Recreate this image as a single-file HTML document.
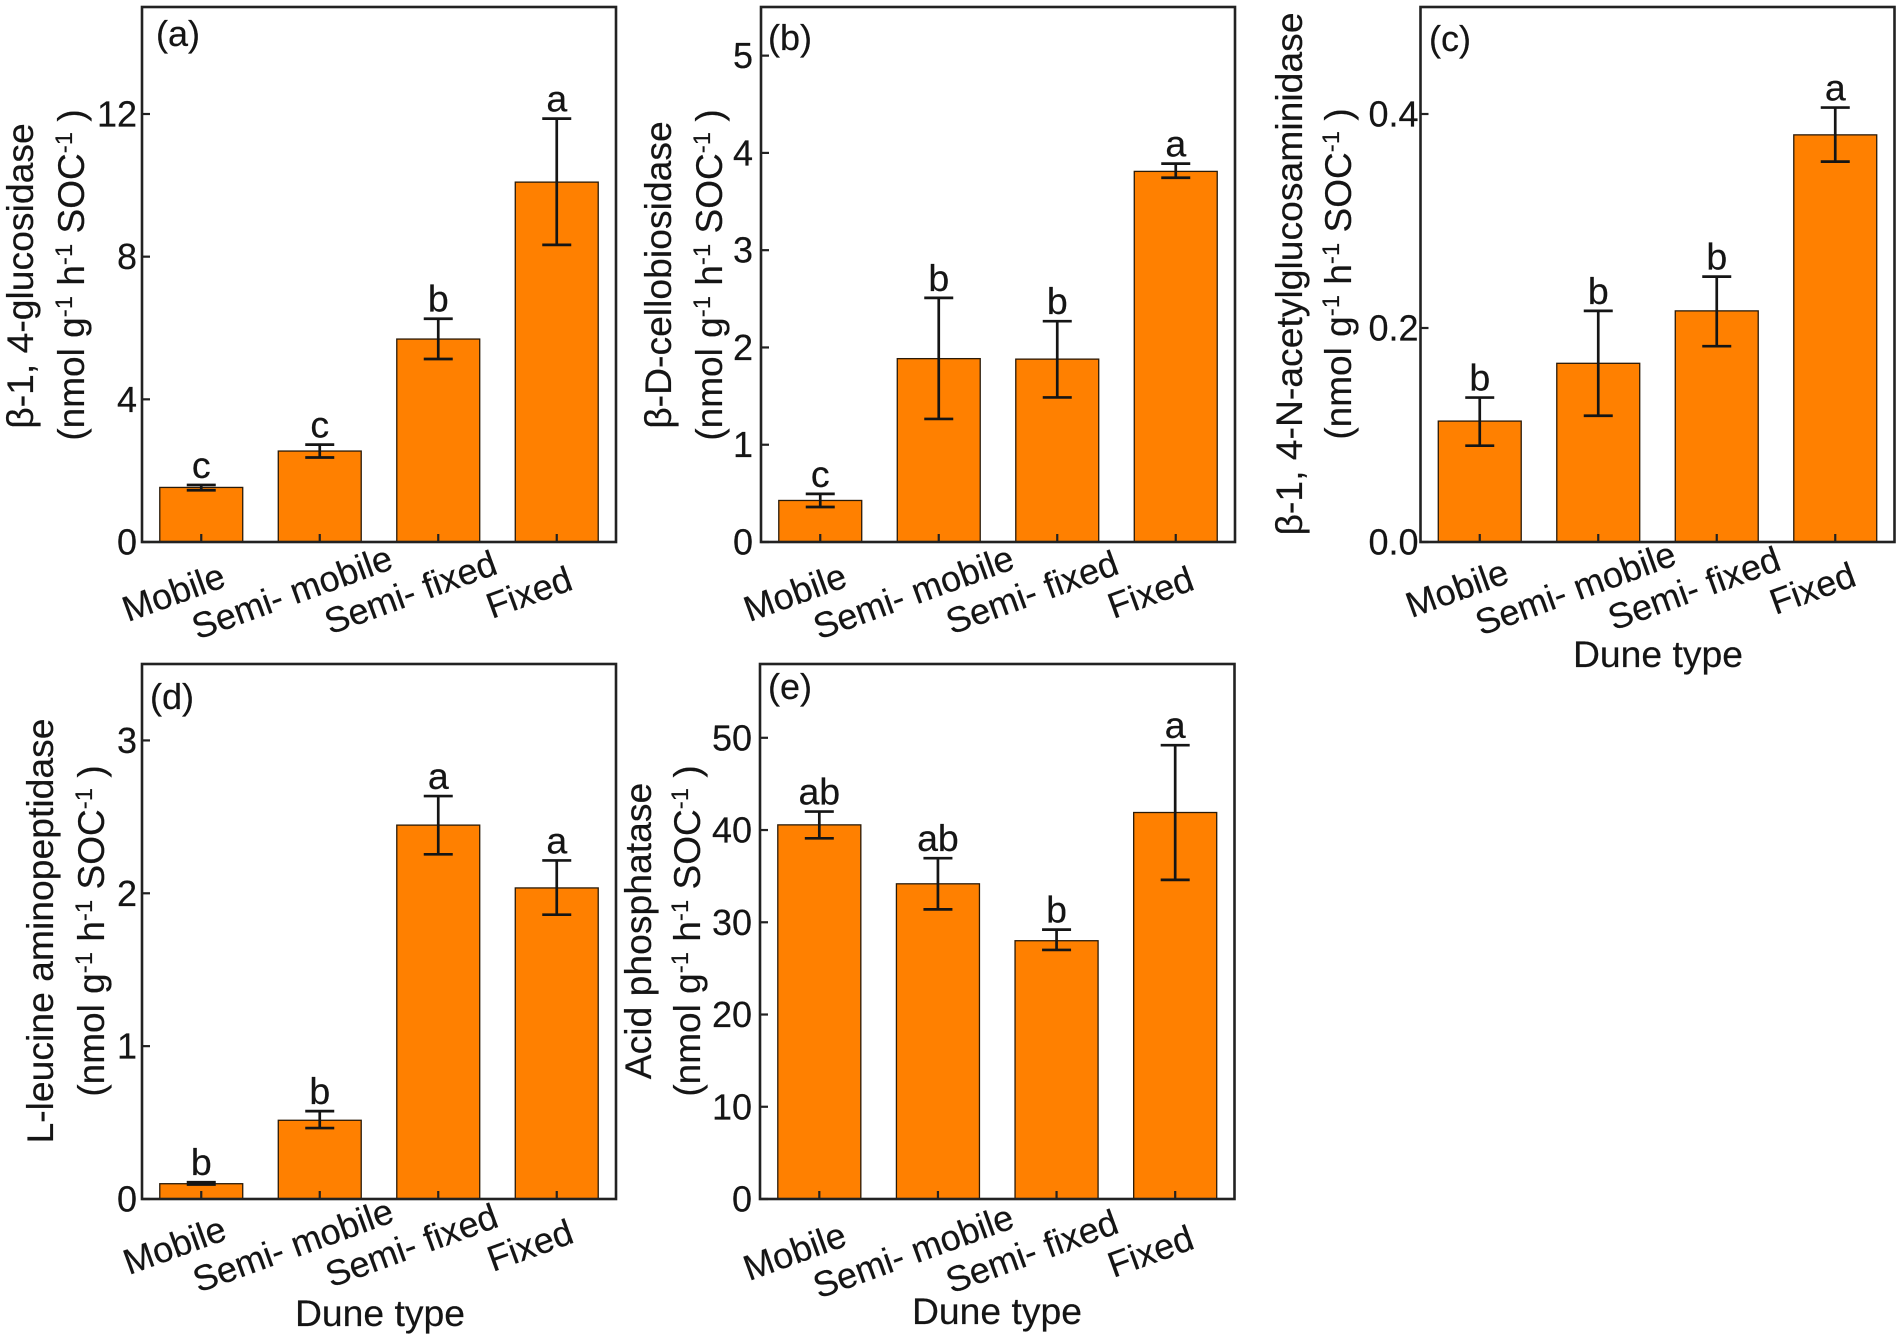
<!DOCTYPE html>
<html lang="en">
<head>
<meta charset="utf-8">
<title>Soil enzyme activity by dune type</title>
<style>
html,body{margin:0;padding:0;background:#fff;width:1902px;height:1340px;overflow:hidden}
svg{display:block}
text{font-family:"Liberation Sans","DejaVu Sans",sans-serif;fill:#151515;font-size:36px;white-space:pre;stroke:#151515;stroke-width:.2px}
text.title{font-size:37.3px}
text.unit{font-size:37px}
</style>
</head>
<body>
<svg id="chart" width="1902" height="1340" viewBox="0 0 1902 1340" xmlns="http://www.w3.org/2000/svg">
  <rect width="1902" height="1340" fill="#fff"/>

  <g id="panel-a"></g>
  <g id="panel-b"></g>
  <g id="panel-c"></g>
  <g id="panel-d"></g>
  <g id="panel-e"></g>

  <!-- Panel tags -->
  <text x="156" y="46">(a)</text>
  <text x="768" y="50">(b)</text>
  <text x="1429" y="51">(c)</text>
  <text x="150" y="709">(d)</text>
  <text x="768" y="699">(e)</text>

  <!-- Y axis titles -->
  <text class="title" text-anchor="middle" transform="translate(33 276) rotate(-90)">β-1, 4-glucosidase</text>
  <text class="unit" text-anchor="middle" transform="translate(84 275) rotate(-90)">(nmol g<tspan font-size="24" dy="-12">-1</tspan><tspan dy="12"> h</tspan><tspan font-size="24" dy="-12">-1</tspan><tspan dy="12"> SOC</tspan><tspan font-size="24" dy="-12">-1</tspan><tspan dy="12"> )</tspan></text>

  <text class="title" text-anchor="middle" transform="translate(671 275) rotate(-90)">β-D-cellobiosidase</text>
  <text class="unit" text-anchor="middle" transform="translate(722 275) rotate(-90)">(nmol g<tspan font-size="24" dy="-12">-1</tspan><tspan dy="12"> h</tspan><tspan font-size="24" dy="-12">-1</tspan><tspan dy="12"> SOC</tspan><tspan font-size="24" dy="-12">-1</tspan><tspan dy="12"> )</tspan></text>

  <text class="title" text-anchor="middle" transform="translate(1302 274) rotate(-90)">β-1, 4-N-acetylglucosaminidase</text>
  <text class="unit" text-anchor="middle" transform="translate(1351 274) rotate(-90)">(nmol g<tspan font-size="24" dy="-12">-1</tspan><tspan dy="12"> h</tspan><tspan font-size="24" dy="-12">-1</tspan><tspan dy="12"> SOC</tspan><tspan font-size="24" dy="-12">-1</tspan><tspan dy="12"> )</tspan></text>

  <text class="title" text-anchor="middle" transform="translate(53 931) rotate(-90)">L-leucine aminopeptidase</text>
  <text class="unit" text-anchor="middle" transform="translate(104 931) rotate(-90)">(nmol g<tspan font-size="24" dy="-12">-1</tspan><tspan dy="12"> h</tspan><tspan font-size="24" dy="-12">-1</tspan><tspan dy="12"> SOC</tspan><tspan font-size="24" dy="-12">-1</tspan><tspan dy="12"> )</tspan></text>

  <text class="title" text-anchor="middle" transform="translate(651 931) rotate(-90)">Acid phosphatase</text>
  <text class="unit" text-anchor="middle" transform="translate(700 931) rotate(-90)">(nmol g<tspan font-size="24" dy="-12">-1</tspan><tspan dy="12"> h</tspan><tspan font-size="24" dy="-12">-1</tspan><tspan dy="12"> SOC</tspan><tspan font-size="24" dy="-12">-1</tspan><tspan dy="12"> )</tspan></text>

  <!-- X axis titles -->
  <text class="title" text-anchor="middle" x="1658" y="667">Dune type</text>
  <text class="title" text-anchor="middle" x="380" y="1326">Dune type</text>
  <text class="title" text-anchor="middle" x="997" y="1324">Dune type</text>
</svg>

<script>
const categories = ["Mobile", "Semi- mobile", "Semi- fixed", "Fixed"];

const meansA = [1.53, 2.55, 5.69, 10.09];
const upperA = [1.60, 2.73, 6.26, 11.87];
const lowerA = [1.45, 2.37, 5.13, 8.33];
const lettersA = ["c", "c", "b", "a"];
const ticksA = [0, 4, 8, 12];
const tickLabelsA = ["0", "4", "8", "12"];

const meansB = [0.427, 1.885, 1.88, 3.81];
const upperB = [0.495, 2.51, 2.27, 3.89];
const lowerB = [0.36, 1.265, 1.486, 3.745];
const lettersB = ["c", "b", "b", "a"];
const ticksB = [0, 1, 2, 3, 4, 5];
const tickLabelsB = ["0", "1", "2", "3", "4", "5"];

const meansC = [0.113, 0.167, 0.216, 0.3805];
const upperC = [0.135, 0.216, 0.248, 0.406];
const lowerC = [0.090, 0.118, 0.183, 0.3555];
const lettersC = ["b", "b", "b", "a"];
const ticksC = [0, 0.2, 0.4];
const tickLabelsC = ["0.0", "0.2", "0.4"];

const meansD = [0.10, 0.515, 2.446, 2.035];
const upperD = [0.11, 0.575, 2.636, 2.215];
const lowerD = [0.095, 0.464, 2.255, 1.86];
const lettersD = ["b", "b", "a", "a"];
const ticksD = [0, 1, 2, 3];
const tickLabelsD = ["0", "1", "2", "3"];

const meansE = [40.56, 34.17, 28.0, 41.9];
const upperE = [42.0, 36.95, 29.2, 49.2];
const lowerE = [39.1, 31.4, 27.0, 34.6];
const lettersE = ["ab", "ab", "b", "a"];
const ticksE = [0, 10, 20, 30, 40, 50];
const tickLabelsE = ["0", "10", "20", "30", "40", "50"];

const yMaxA = 15;
const yMaxB = 5.5;
const yMaxC = 0.5;
const yMaxD = 3.5;
const yMaxE = 58;

const SVG_NS = "http://www.w3.org/2000/svg";

function make(parent, tag, attrs, content) {
  const el = document.createElementNS(SVG_NS, tag);
  for (const key in attrs) el.setAttribute(key, attrs[key]);
  if (content !== undefined) el.textContent = content;
  parent.appendChild(el);
  return el;
}

function drawPanel(id, frame, yMax, means, upper, lower, letters, ticks, tickLabels) {
  const g = document.getElementById("panel-" + id);
  const yScale = v => frame.bottom - (v / yMax) * (frame.bottom - frame.top);
  const xScale = i => frame.left + ((i + 0.5) / categories.length) * (frame.right - frame.left);
  const barWidth = 0.7 * (frame.right - frame.left) / categories.length;

  means.forEach((value, i) => {
    const bar = make(g, "rect", {
      x: xScale(i) - barWidth / 2,
      y: yScale(value),
      width: barWidth,
      height: frame.bottom - yScale(value),
      fill: "#ff8000",
      stroke: "#2a1a08",
      "stroke-width": 1.3
    });
    
    
  });

  means.forEach((value, i) => {
    const cx = xScale(i);
    const capHalf = 14.5;
    const err = make(g, "path", {
      d: "M" + cx + " " + yScale(upper[i]) + "V" + yScale(lower[i]) +
         "M" + (cx - capHalf) + " " + yScale(upper[i]) + "H" + (cx + capHalf) +
         "M" + (cx - capHalf) + " " + yScale(lower[i]) + "H" + (cx + capHalf),
      fill: "none",
      stroke: "#151515",
      "stroke-width": 2.7
    });
    
    

    const letter = make(g, "text", {
      x: cx,
      y: yScale(upper[i]) - 7,
      "text-anchor": "middle"
    }, letters[i]);
    letter.style.fontSize = "37.5px";
    
    
  });

  const box = make(g, "rect", {
    x: frame.left,
    y: frame.top,
    width: frame.right - frame.left,
    height: frame.bottom - frame.top,
    fill: "none",
    stroke: "#222",
    "stroke-width": 2.6
  });
  
  

  ticks.forEach((value, i) => {
    const y = yScale(value);
    const tick = make(g, "line", {
      x1: frame.left, x2: frame.left + 8, y1: y, y2: y,
      stroke: "#222", "stroke-width": 2.2
    });
    
    

    const label = make(g, "text", {
      x: frame.left - frame.tickGap,
      y: y + 12.5,
      "text-anchor": "end"
    }, tickLabels[i]);
    
    
  });

  categories.forEach((name, i) => {
    const x = xScale(i);
    const tick = make(g, "line", {
      x1: x, x2: x, y1: frame.bottom, y2: frame.bottom - 8,
      stroke: "#222", "stroke-width": 2.2
    });
    
    

    const ax = x - 24 + frame.labelShift;
    const ay = frame.bottom + frame.labelDrop;
    const label = make(g, "text", {
      "text-anchor": "middle",
      transform: "translate(" + ax + " " + ay + ") rotate(-20)"
    }, name);
    label.style.fontSize = "36px";
    
    
  });
}

drawPanel("a", {left: 142, right: 616, top: 7, bottom: 542, tickGap: 5, labelDrop: 62, labelShift: 0.5}, yMaxA, meansA, upperA, lowerA, lettersA, ticksA, tickLabelsA);
drawPanel("b", {left: 761, right: 1235, top: 7, bottom: 542, tickGap: 8, labelDrop: 62, labelShift: 3}, yMaxB, meansB, upperB, lowerB, lettersB, ticksB, tickLabelsB);
drawPanel("c", {left: 1420.5, right: 1894.5, top: 7, bottom: 542, tickGap: 2, labelDrop: 58, labelShift: 5.5}, yMaxC, meansC, upperC, lowerC, lettersC, ticksC, tickLabelsC);
drawPanel("d", {left: 142, right: 616, top: 664, bottom: 1199, tickGap: 5, labelDrop: 58, labelShift: 1.5}, yMaxD, meansD, upperD, lowerD, lettersD, ticksD, tickLabelsD);
drawPanel("e", {left: 760, right: 1234.5, top: 664, bottom: 1199, tickGap: 8, labelDrop: 64, labelShift: 3.5}, yMaxE, meansE, upperE, lowerE, lettersE, ticksE, tickLabelsE);
</script>
</body>
</html>
